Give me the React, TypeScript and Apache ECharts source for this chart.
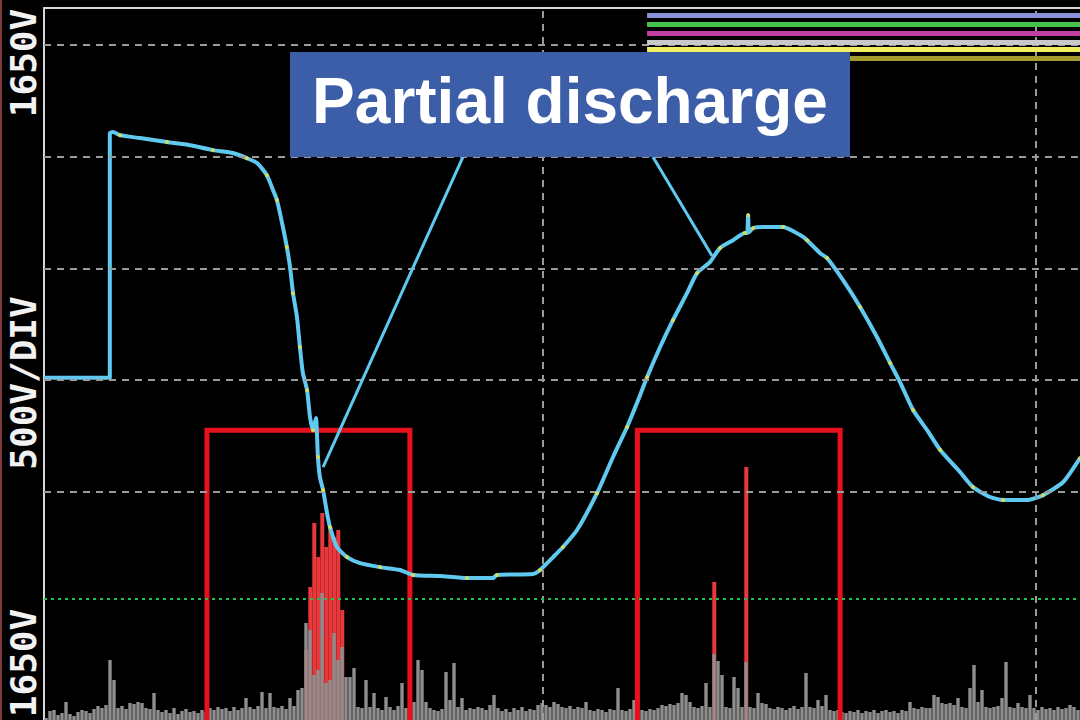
import React, { useEffect, useRef } from "react";
import * as echarts from "echarts";

// ---- Voltage channel (time in ms, 20 ms/div; voltage in V, 500 V/div) ----
const waveT = [
  -20.24, -17.57, -17.57, -17.44, -17.16, -16.35, -15.25, -14.32, -13.39, -12.58,
  -12.01, -11.6, -11.2, -10.95, -10.79, -10.55, -10.39, -10.26, -10.14, -9.98,
  -9.86, -9.74, -9.57, -9.45, -9.33, -9.21, -9.13, -9.05, -8.92, -8.76,
  -8.64, -8.36, -7.95, -7.42, -6.61, -5.8, -5.27, -4.18, -3.08, -2.03,
  -1.87, -0.41, -0.12, 0.41, 0.81, 1.38, 2.19, 2.84, 3.41, 3.81,
  4.22, 4.75, 5.27, 5.84, 6.25, 6.77, 7.18, 7.71, 8.19, 8.28,
  8.32, 8.36, 8.52, 8.92, 9.74, 10.43, 10.71, 11.24, 11.52, 12.17,
  12.86, 13.55, 14.08, 14.48, 15.01, 15.58, 16.11, 16.92, 17.44, 18.13,
  18.66, 19.63, 20.28, 21.1, 21.78,
];
const waveV = [
  10, 10, 1105, 1110, 1096, 1083, 1065, 1051, 1029, 1016,
  993, 971, 917, 850, 805, 685, 595, 505, 389, 282,
  148, 31, -45, -166, -224, -170, -344, -434, -492, -595,
  -658, -747, -792, -819, -837, -850, -872, -877, -886, -886,
  -872, -868, -850, -792, -747, -671, -506, -344, -210, -103,
  13, 148, 268, 389, 479, 528, 591, 626, 658, 658,
  738, 662, 680, 685, 685, 649, 626, 568, 546, 447,
  327, 192, 76, -9, -134, -224, -313, -412, -479, -523,
  -537, -537, -515, -456, -349,
];

// ---- PD channel (sample index, amplitude in mV) ----
const pdNoise = [
  2, 9, 10, 5, 7, 18, 6, 4, 8, 10,
  9, 7, 11, 14, 12, 15, 60, 40, 12, 14,
  11, 17, 16, 18, 17, 12, 11, 27, 10, 8,
  10, 7, 12, 6, 9, 11, 8, 9, 7, 10,
  8, 12, 10, 13, 11, 12, 9, 13, 10, 12,
  22, 13, 11, 14, 28, 12, 27, 13, 12, 14,
  11, 22, 14, 30, 32, 97, 90, 45, 50, 127,
  37, 40, 87, 60, 73, 43, 43, 52, 13, 12,
  40, 13, 27, 12, 10, 23, 13, 10, 14, 37,
  12, 8, 18, 60, 50, 18, 12, 10, 9, 11,
  48, 20, 57, 13, 22, 10, 12, 11, 13, 12,
  10, 15, 25, 12, 9, 11, 8, 12, 10, 13,
  9, 11, 10, 15, 17, 15, 13, 18, 16, 13,
  12, 14, 11, 13, 12, 18, 10, 9, 11, 10,
  8, 11, 10, 32, 10, 9, 11, 20, 8, 10,
  9, 11, 10, 12, 15, 14, 16, 15, 17, 27,
  25, 18, 13, 12, 14, 37, 13, 66, 59, 45,
  13, 12, 43, 32, 13, 58, 13, 12, 27, 17,
  16, 12, 11, 13, 12, 10, 12, 14, 11, 13,
  47, 13, 12, 20, 14, 25, 10, 9, 10, 8,
  7, 9, 8, 10, 7, 9, 8, 10, 7, 9,
  10, 8, 9, 7, 10, 9, 18, 12, 11, 13,
  12, 12, 25, 23, 17, 16, 17, 15, 22, 13,
  12, 32, 55, 18, 30, 13, 12, 13, 14, 22,
  58, 13, 12, 17, 13, 12, 25, 12, 10, 13,
  11, 12, 10, 13, 11, 12, 15, 13, 10,
];
const pdPulseIdx = [65, 66, 67, 68, 69, 70, 71, 72, 73, 74, 167, 175];
const pdPulseVal = [70, 133, 197, 163, 207, 173, 193, 183, 190, 110, 138, 253];

// ---- Gates, levels, markers ----
const gateStart = [-13.63, 3.83];
const gateEnd = [-5.4, 12.05];
const gateTop = -224;
const triggerLevel = -980;
const gridVolts = [1500, 1000, 500, 0, -500];
const gridTimes = [0, 20];
const markerLevels = [1633, 1593, 1553, 1512, 1481, 1441];
const markerColors = ["#8b8fd9", "#46c24c", "#c13fa5", "#c9c9c9", "#f1ee62", "#a59a2d"];
const markerStart = 4.22;
const calloutFrom = [[-3.25, 998], [4.46, 998]];
const calloutTo = [[-8.92, -389], [6.86, 555]];
const sideLabels = ["1650V", "500V/DIV", "1650V"];
const sideLabelCenters = [63, 383, 663];
const title = "Partial discharge";

const T_MIN = -20.24;
const T_MAX = 21.78;
const V_MIN = -1521;
const V_MAX = 1665;
const PD_MAX = 712;

function buildOption(): any {
  const pdPulse = pdNoise.map(() => 0);
  pdPulseIdx.forEach((idx, k) => {
    pdPulse[idx] = pdPulseVal[k];
  });
  const wave = waveT.map((t, i) => [t, waveV[i]]);
  const specks = wave.filter((_, i) => i > 2 && i % 2 === 0);

  const gateSeries = gateStart.map((s, g) => ({
    type: "line",
    xAxisIndex: 0,
    yAxisIndex: 0,
    silent: true,
    symbol: "none",
    showSymbol: false,
    data: [
      [s, V_MIN - 300],
      [s, gateTop],
      [gateEnd[g], gateTop],
      [gateEnd[g], V_MIN - 300],
    ],
    lineStyle: { color: "#e8101a", width: 5, join: "miter", cap: "square" },
    z: 3,
  }));

  const axisLineStyle = { color: "#d6d6d6", width: 2 };

  return {
    animation: false,
    backgroundColor: "#000000",
    grid: [
      { left: 44, top: 8, right: 0, bottom: 0 },
      { left: 44, top: 8, right: 0, bottom: 0 },
    ],
    xAxis: [
      {
        type: "value",
        gridIndex: 0,
        min: T_MIN,
        max: T_MAX,
        position: "top",
        axisLine: { show: true, onZero: false, lineStyle: axisLineStyle },
        axisTick: { show: false },
        axisLabel: { show: false },
        splitLine: { show: false },
      },
      {
        type: "category",
        gridIndex: 1,
        data: pdNoise.map((_, i) => String(i)),
        boundaryGap: true,
        show: false,
      },
    ],
    yAxis: [
      {
        type: "value",
        gridIndex: 0,
        min: V_MIN,
        max: V_MAX,
        axisLine: { show: true, onZero: false, lineStyle: axisLineStyle },
        axisTick: { show: false },
        axisLabel: { show: false },
        splitLine: { show: false },
      },
      {
        type: "value",
        gridIndex: 1,
        min: 0,
        max: PD_MAX,
        show: false,
        splitLine: { show: false },
      },
    ],
    series: [
      {
        type: "line",
        xAxisIndex: 0,
        yAxisIndex: 0,
        data: [],
        silent: true,
        z: 1,
        markLine: {
          silent: true,
          animation: false,
          symbol: ["none", "none"],
          label: { show: false },
          lineStyle: { color: "#9a9a9a", width: 2, type: [7, 6] },
          data: [
            ...gridVolts.map((v) => ({ yAxis: v })),
            ...gridTimes.map((t) => ({ xAxis: t })),
            {
              yAxis: triggerLevel,
              lineStyle: { color: "#22c050", width: 2, type: [3, 4] },
            },
          ],
        },
      },
      {
        type: "bar",
        xAxisIndex: 1,
        yAxisIndex: 1,
        data: pdPulse,
        barWidth: 4,
        barGap: "-100%",
        silent: true,
        itemStyle: { color: "#e8383b" },
        z: 2,
      },
      {
        type: "bar",
        xAxisIndex: 1,
        yAxisIndex: 1,
        data: pdNoise,
        barWidth: 3.4,
        barGap: "-100%",
        silent: true,
        itemStyle: { color: "#8e8e8e" },
        z: 2,
      },
      ...gateSeries,
      {
        type: "line",
        xAxisIndex: 0,
        yAxisIndex: 0,
        data: wave,
        symbol: "none",
        showSymbol: false,
        silent: true,
        smooth: 0.2,
        lineStyle: { color: "#5fc9ef", width: 4, join: "round" },
        z: 4,
      },
      {
        type: "scatter",
        xAxisIndex: 0,
        yAxisIndex: 0,
        data: specks,
        symbolSize: 4,
        silent: true,
        itemStyle: { color: "#f3e23a" },
        z: 5,
      },
      {
        type: "line",
        xAxisIndex: 0,
        yAxisIndex: 0,
        data: [],
        silent: true,
        z: 6,
        markLine: {
          silent: true,
          animation: false,
          symbol: ["none", "none"],
          label: { show: false },
          lineStyle: { color: "#5fc9ef", width: 3, type: "solid" },
          data: [
            ...calloutFrom.map((f, k) => [{ coord: f }, { coord: calloutTo[k] }]),
            ...markerLevels.map((lvl, k) => [
              { coord: [markerStart, lvl], lineStyle: { color: markerColors[k], width: 5, type: "solid" } },
              { coord: [T_MAX, lvl] },
            ]),
          ],
        },
      },
    ],
    graphic: [
      {
        type: "rect",
        z: 100,
        shape: { x: 0, y: 0, width: 2, height: 720 },
        style: { fill: "#7d3a3a" },
      },
      {
        type: "rect",
        z: 100,
        shape: { x: 290, y: 52, width: 560, height: 105 },
        style: { fill: "#3c5ea8" },
      },
      {
        type: "text",
        z: 101,
        x: 570,
        y: 101,
        style: {
          text: title,
          fill: "#ffffff",
          font: 'bold 64px "Liberation Sans", Arial, sans-serif',
          align: "center",
          verticalAlign: "middle",
          textAlign: "center",
          textVerticalAlign: "middle",
        },
      },
      ...sideLabels.map((txt, k) => ({
        type: "text",
        z: 101,
        x: 23,
        y: sideLabelCenters[k],
        rotation: Math.PI / 2,
        style: {
          text: txt,
          fill: "#f2f2f2",
          font: 'bold 36px "DejaVu Sans Mono", monospace',
          align: "center",
          verticalAlign: "middle",
          textAlign: "center",
          textVerticalAlign: "middle",
        },
      })),
    ],
  };
}

export default function App() {
  const ref = useRef<HTMLDivElement>(null);
  useEffect(() => {
    if (!ref.current) return;
    const chart = echarts.init(ref.current, null, { renderer: "svg" });
    chart.setOption(buildOption());
    return () => {
      chart.dispose();
    };
  }, []);
  return (
    <div
      ref={ref}
      style={{
        position: "fixed",
        left: 0,
        top: 0,
        width: 1080,
        height: 720,
        background: "#000",
      }}
    />
  );
}
